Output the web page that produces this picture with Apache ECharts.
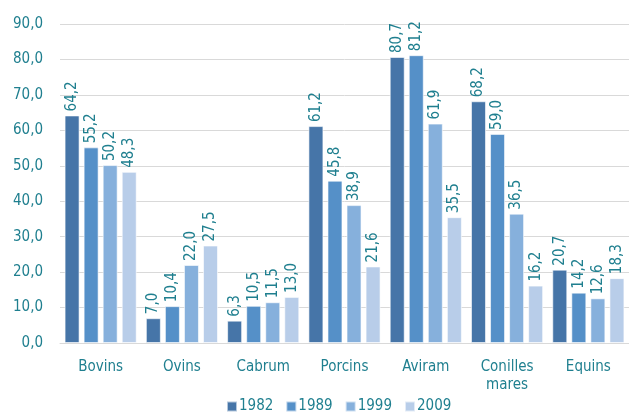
<!DOCTYPE html>
<html><head><meta charset="utf-8">
<script src="https://cdn.jsdelivr.net/npm/echarts@6/dist/echarts.min.js"></script>
<style>html,body{margin:0;padding:0;background:#fff}#c{width:629px;height:414px}</style>
</head><body><div id="c"></div>
<script>
const categories = ['Bovins','Ovins','Cabrum','Porcins','Aviram','Conilles\nmares','Equins'];
const seriesNames = ['1982','1989','1999','2009'];
const v1982 = [64.2, 7.0, 6.3, 61.2, 80.7, 68.2, 20.7];
const v1989 = [55.2, 10.4, 10.5, 45.8, 81.2, 59.0, 14.2];
const v1999 = [50.2, 22.0, 11.5, 38.9, 61.9, 36.5, 12.6];
const v2009 = [48.3, 27.5, 13.0, 21.6, 35.5, 16.2, 18.3];
const values = [v1982, v1989, v1999, v2009];
const colors = ['#4675a8','#5590c8','#86b0dc','#b8cde9'];
const teal = '#1f7f8f';
const font = '"DejaVu Sans Condensed","Liberation Sans Narrow",sans-serif';
const chart = echarts.init(document.getElementById('c'));
chart.setOption({
  animation:false,
  color: colors,
  grid:{left:60,right:0,top:24,bottom:71},
  legend:{bottom:-5,left:221,itemWidth:10,itemHeight:10,itemGap:12,
    textStyle:{color:teal,fontFamily:font,fontSize:15,padding:[0,0,0,-3]},
    data:seriesNames.map(n=>({name:n,icon:'rect'}))},
  xAxis:{type:'category',data:categories,
    axisLine:{lineStyle:{color:'#d9d9d9',width:1}},axisTick:{show:false},
    axisLabel:{color:teal,fontFamily:font,fontSize:15,margin:15,lineHeight:18}},
  yAxis:{type:'value',min:0,max:90,interval:10,
    axisLine:{show:false},axisTick:{show:false},
    splitLine:{lineStyle:{color:'#d9d9d9',width:1}},
    axisLabel:{color:teal,fontFamily:font,fontSize:15,margin:17,
      formatter:v=>v.toFixed(1).replace('.',',')}},
  series: seriesNames.map((n,i)=>({
    name:n,type:'bar',data:values[i],barWidth:15,barGap:'27%',
    itemStyle:{color:colors[i],borderColor:'rgba(255,255,255,0.6)',borderWidth:1},
    label:{show:true,position:'top',rotate:90,align:'left',verticalAlign:'middle',distance:4,
      color:teal,fontFamily:font,fontSize:15,
      formatter:p=>p.value.toFixed(1).replace('.',',')}
  }))
});
</script></body></html>
